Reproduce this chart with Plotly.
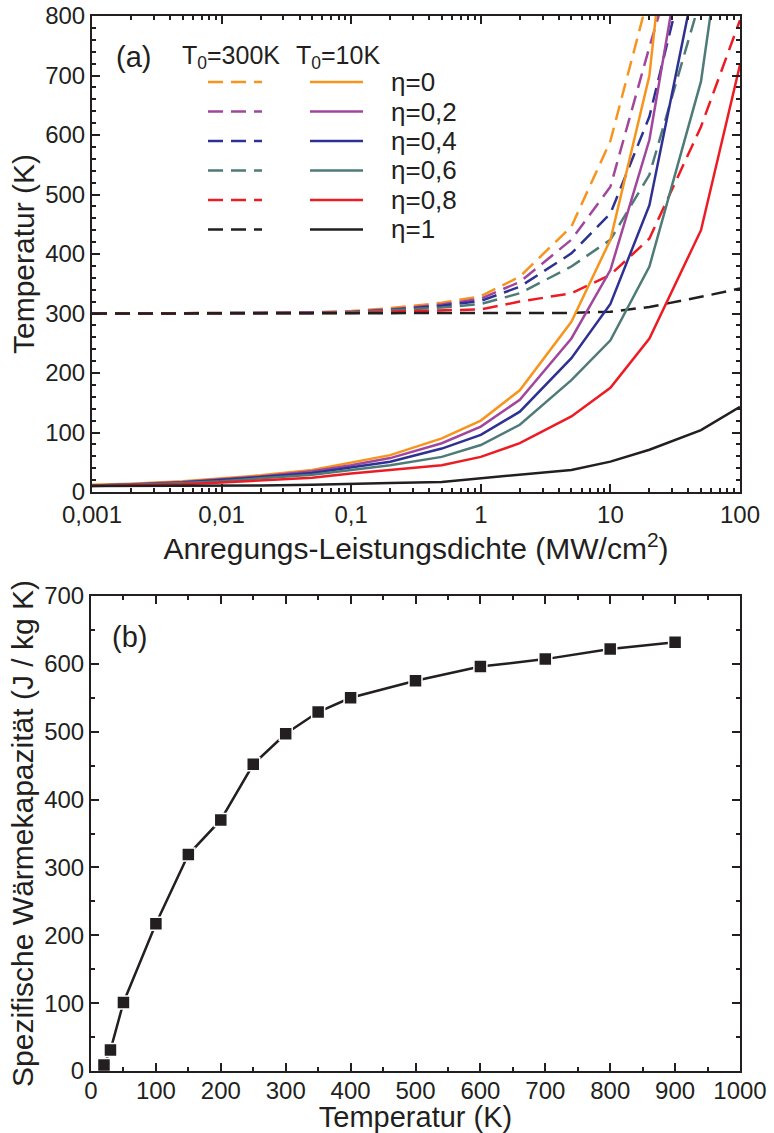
import plotly.graph_objects as go

# ---------------- data: panel (a) ----------------
power_density = [0.001, 0.002, 0.005, 0.01, 0.02, 0.05, 0.1, 0.2, 0.5, 1, 2, 5, 10, 20, 50, 100]
eta_labels = ["η=0", "η=0,2", "η=0,4", "η=0,6", "η=0,8", "η=1"]

# T0 = 10 K (solid)
T10_eta0 = [12, 14, 18, 23, 28, 37, 49, 62, 90, 120, 171, 286, 424, 700, 1500, 3000]
T10_eta02 = [11, 13, 17, 21, 26, 35, 45, 57, 82, 110, 155, 258, 373, 592, 1100, 2200]
T10_eta04 = [11, 12, 16, 20, 25, 32, 42, 51, 73, 96, 135, 225, 316, 482, 910, 1700]
T10_eta06 = [11, 12, 15, 18, 23, 29, 37, 45, 59, 79, 113, 188, 255, 379, 690, 1150]
T10_eta08 = [10, 11, 13, 16, 19, 24, 31, 37, 45, 59, 82, 127, 175, 258, 440, 718]
T10_eta1 = [10, 10, 10, 10, 11, 12, 13, 15, 17, 23, 30, 37, 51, 71, 104, 143]

# T0 = 300 K (dashed)
T300_eta0 = [300, 300, 300, 300, 301, 302, 304, 309, 318, 329, 362, 446, 590, 840, 1500, 3000]
T300_eta02 = [300, 300, 300, 300, 301, 302, 303, 307, 315, 325, 353, 424, 513, 748, 1040, 2000]
T300_eta04 = [300, 300, 300, 300, 300, 301, 302, 306, 313, 321, 345, 401, 468, 631, 987, 1800]
T300_eta06 = [300, 300, 300, 300, 300, 301, 302, 305, 310, 316, 334, 379, 424, 533, 832, 1500]
T300_eta08 = [300, 300, 300, 300, 300, 300, 301, 303, 305, 307, 320, 334, 365, 426, 614, 793]
T300_eta1 = [300, 300, 300, 300, 300, 300, 300, 300, 300, 300, 300, 301, 303, 311, 328, 342]

x_tick_vals = [0.001, 0.01, 0.1, 1, 10, 100]
x_tick_text = ["0,001", "0,01", "0,1", "1", "10", "100"]

# ---------------- data: panel (b) ----------------
temperature_b = [20, 30, 50, 100, 150, 200, 250, 300, 350, 400, 500, 600, 700, 800, 900]
heat_capacity = [9, 31, 101, 217, 319, 370, 452, 497, 529, 550, 575, 596, 607, 622, 632]

# ---------------- styling ----------------
W, H = 774, 1133
FONT = "Liberation Sans, Arial, Helvetica, sans-serif"
INK = "#231F20"
colors = ["#F7941D", "#A0479D", "#2E3192", "#4E7B78", "#ED1C24", "#231F20"]
DASH = "15px,8px"

solid_series = [T10_eta0, T10_eta02, T10_eta04, T10_eta06, T10_eta08, T10_eta1]
dashed_series = [T300_eta0, T300_eta02, T300_eta04, T300_eta06, T300_eta08, T300_eta1]


def px(x):
    return x / W


def py(y):
    return 1 - y / H


fig = go.Figure()

for i, ys in enumerate(dashed_series):
    fig.add_trace(go.Scatter(x=power_density, y=ys, mode="lines", name="T0=300K " + eta_labels[i],
                             line=dict(color=colors[i], width=2.5, dash=DASH),
                             xaxis="x", yaxis="y", showlegend=False, cliponaxis=True))
for i, ys in enumerate(solid_series):
    fig.add_trace(go.Scatter(x=power_density, y=ys, mode="lines", name="T0=10K " + eta_labels[i],
                             line=dict(color=colors[i], width=2.5),
                             xaxis="x", yaxis="y", showlegend=False, cliponaxis=True))

fig.add_trace(go.Scatter(x=temperature_b, y=heat_capacity, mode="lines+markers",
                         line=dict(color=INK, width=2.5),
                         marker=dict(symbol="square", size=13, color=INK, line=dict(color="white", width=1.5)),
                         xaxis="x2", yaxis="y2", showlegend=False, cliponaxis=False))

axis_common = dict(showline=True, linecolor=INK, linewidth=2, mirror="allticks",
                   ticks="inside", ticklen=8, tickwidth=1.5, tickcolor=INK,
                   showgrid=False, zeroline=False, automargin=False,
                   tickfont=dict(family=FONT, size=24, color=INK))
title_font = dict(family=FONT, size=30, color=INK)

minor_log = [m * 10 ** e for e in range(-3, 2) for m in range(2, 10)]

fig.update_layout(
    width=W, height=H,
    margin=dict(l=0, r=0, t=0, b=0),
    paper_bgcolor="white", plot_bgcolor="white",
    font=dict(family=FONT, color=INK),
    xaxis=dict(**axis_common, type="log", range=[-3, 2],
               domain=[px(92), px(740)], anchor="y",
               tickmode="array", tickvals=x_tick_vals, ticktext=x_tick_text,
               minor=dict(ticks="inside", ticklen=4, tickwidth=1.5, tickcolor=INK,
                          tickmode="array", tickvals=minor_log, showgrid=False),
               title=dict(text="Anregungs-Leistungsdichte (MW/cm<sup>2</sup>)", font=title_font, standoff=2)),
    yaxis=dict(**axis_common, range=[0, 800], domain=[py(492), py(16)], anchor="x",
               tickmode="linear", tick0=0, dtick=100,
               minor=dict(ticks="inside", ticklen=4, tickwidth=1.5, tickcolor=INK, dtick=20, showgrid=False),
               title=dict(text="Temperatur (K)", font=title_font, standoff=2)),
    xaxis2=dict(**axis_common, range=[0, 1000], domain=[px(91), px(740)], anchor="y2",
                tickmode="linear", tick0=0, dtick=100, ticklabelstandoff=-3,
                minor=dict(ticks="inside", ticklen=4, tickwidth=1.5, tickcolor=INK, dtick=50, showgrid=False),
                title=dict(text="Temperatur (K)", font=dict(family=FONT, size=29, color=INK), standoff=3)),
    yaxis2=dict(**axis_common, range=[0, 700], domain=[py(1071), py(596)], anchor="x2",
                tickmode="linear", tick0=0, dtick=100,
                minor=dict(ticks="inside", ticklen=4, tickwidth=1.5, tickcolor=INK, dtick=50, showgrid=False),
                title=dict(text="Spezifische Wärmekapazität (J / kg K)", font=title_font, standoff=2)),
)

# ---------------- legend (drawn in panel a) ----------------
row_y = [82, 111.5, 141, 170.5, 200, 229.5]
shapes = []
annotations = []
for i, ry in enumerate(row_y):
    shapes.append(dict(type="line", xref="paper", yref="paper", x0=px(208), x1=px(262), y0=py(ry), y1=py(ry),
                       line=dict(color=colors[i], width=2.5, dash=DASH)))
    shapes.append(dict(type="line", xref="paper", yref="paper", x0=px(310), x1=px(363), y0=py(ry), y1=py(ry),
                       line=dict(color=colors[i], width=2.5)))
    annotations.append(dict(xref="paper", yref="paper", x=px(389), y=py(ry), text=eta_labels[i],
                            showarrow=False, xanchor="left", yanchor="middle",
                            font=dict(family=FONT, size=26, color=INK)))

annotations.append(dict(xref="paper", yref="paper", x=px(114), y=py(57), text="(a)", showarrow=False,
                        xanchor="left", yanchor="middle", font=dict(family=FONT, size=29, color=INK)))
annotations.append(dict(xref="paper", yref="paper", x=px(180), y=py(57), text="T<sub>0</sub>=300K",
                        showarrow=False, xanchor="left", yanchor="middle",
                        font=dict(family=FONT, size=25, color=INK)))
annotations.append(dict(xref="paper", yref="paper", x=px(294), y=py(57), text="T<sub>0</sub>=10K",
                        showarrow=False, xanchor="left", yanchor="middle",
                        font=dict(family=FONT, size=25, color=INK)))
annotations.append(dict(xref="paper", yref="paper", x=px(110), y=py(637), text="(b)", showarrow=False,
                        xanchor="left", yanchor="middle", font=dict(family=FONT, size=29, color=INK)))

fig.update_layout(shapes=shapes, annotations=annotations)

fig.write_html("out.html",
               config={"displayModeBar": False},
               post_script="document.body.style.margin='0px';document.body.style.padding='0px';"
                           "document.documentElement.style.overflow='hidden';")
